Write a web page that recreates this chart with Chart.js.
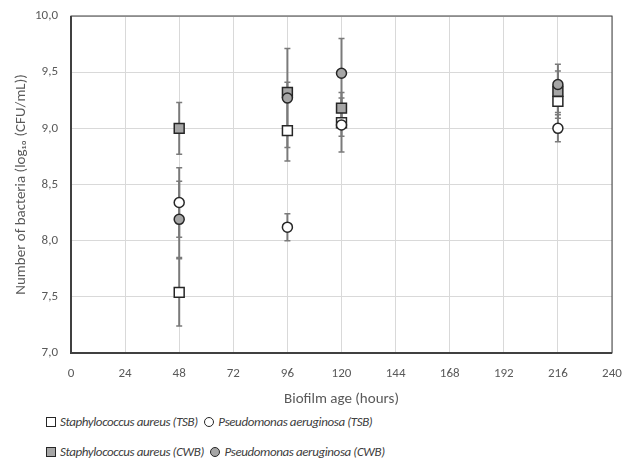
<!DOCTYPE html>
<html>
<head>
<meta charset="utf-8">
<script src="https://cdn.jsdelivr.net/npm/chart.js@4/dist/chart.umd.min.js"></script>
<style>
  html, body { margin: 0; padding: 0; background: #fff; }
  #wrap { position: relative; width: 625px; height: 462px; overflow: hidden; font-family: Carlito, Lato, sans-serif; }
  #c { position: absolute; left: 0; top: 0; }
  .row { position: absolute; left: 46px; font-style: italic; font-size: 13px; letter-spacing: -0.4px; color: #404040; white-space: nowrap; line-height: 16px; }
  .sym { display: inline-block; vertical-align: -1px; margin-right: 4px; box-sizing: border-box; border: 1.5px solid #262626; }
  .sq { width: 10px; height: 10px; }
  .ci { width: 10px; height: 10px; border-radius: 50%; margin-left: 4px; }
</style>
</head>
<body>
<div id="wrap">
  <canvas id="c" width="625" height="410"></canvas>
  <div class="row" id="row1" style="top:414px"></div>
  <div class="row" id="row2" style="top:444px"></div>
</div>
<script>
const hours = [48, 96, 120, 216];
const seriesNames = [
  "Staphylococcus aureus (TSB)",
  "Pseudomonas aeruginosa (TSB)",
  "Staphylococcus aureus (CWB)",
  "Pseudomonas aeruginosa (CWB)"
];
const staphTSB = [7.54, 8.98, 9.05, 9.24];
const staphTSBErr = [0.30, 0.27, 0.12, 0.10];
const pseudoTSB = [8.34, 8.12, 9.03, 9.00];
const pseudoTSBErr = [0.31, 0.12, 0.24, 0.12];
const staphCWB = [9.00, 9.32, 9.18, 9.33];
const staphCWBErr = [0.23, 0.09, 0.14, 0.24];
const pseudoCWB = [8.19, 9.27, 9.49, 9.39];
const pseudoCWBErr = [0.34, 0.44, 0.31, 0.12];
const xTicks = [0, 24, 48, 72, 96, 120, 144, 168, 192, 216, 240];
const yTicks = [7.0, 7.5, 8.0, 8.5, 9.0, 9.5, 10.0];

const FONT = "Carlito, Lato, sans-serif";
const TXT = "#595959";
const GRAY = "#a6a6a6";
const EDGE = "#262626";

function pts(vals, errs) {
  return hours.map((h, i) => ({ x: h, y: vals[i], err: errs[i] }));
}

const errorBars = {
  id: 'errorBars',
  beforeDatasetsDraw(chart) {
    const ctx = chart.ctx;
    const xs = chart.scales.x, ys = chart.scales.y;
    ctx.save();
    ctx.strokeStyle = '#7a7a7a';
    chart.data.datasets.forEach(ds => {
      ds.data.forEach(p => {
        const x = xs.getPixelForValue(p.x);
        const y1 = ys.getPixelForValue(p.y + p.err);
        const y2 = ys.getPixelForValue(p.y - p.err);
        ctx.lineWidth = 2;
        ctx.beginPath();
        ctx.moveTo(x, y1); ctx.lineTo(x, y2);
        ctx.stroke();
        ctx.lineWidth = 1.5;
        ctx.beginPath();
        ctx.moveTo(x - 3, y1); ctx.lineTo(x + 3, y1);
        ctx.moveTo(x - 3, y2); ctx.lineTo(x + 3, y2);
        ctx.stroke();
      });
    });
    const a = chart.chartArea;
    ctx.strokeStyle = '#404040';
    ctx.lineWidth = 1;
    ctx.strokeRect(a.left, a.top, a.right - a.left, a.bottom - a.top);
    ctx.lineWidth = 2;
    ctx.beginPath();
    ctx.moveTo(a.left, a.top); ctx.lineTo(a.left, a.bottom); ctx.lineTo(a.right, a.bottom);
    ctx.stroke();
    ctx.restore();
  }
};

new Chart(document.getElementById('c'), {
  type: 'scatter',
  data: {
    datasets: [
      { label: seriesNames[0], data: pts(staphTSB, staphTSBErr), pointStyle: 'rect', pointRadius: 7, pointHoverRadius: 7, backgroundColor: '#ffffff', borderColor: EDGE, borderWidth: 1.5, order: 3 },
      { label: seriesNames[1], data: pts(pseudoTSB, pseudoTSBErr), pointStyle: 'circle', pointRadius: 5, pointHoverRadius: 5, backgroundColor: '#ffffff', borderColor: EDGE, borderWidth: 1.5, order: 2 },
      { label: seriesNames[2], data: pts(staphCWB, staphCWBErr), pointStyle: 'rect', pointRadius: 7, pointHoverRadius: 7, backgroundColor: GRAY, borderColor: EDGE, borderWidth: 1.5, order: 1 },
      { label: seriesNames[3], data: pts(pseudoCWB, pseudoCWBErr), pointStyle: 'circle', pointRadius: 5, pointHoverRadius: 5, backgroundColor: GRAY, borderColor: EDGE, borderWidth: 1.5, order: 0 }
    ]
  },
  options: {
    responsive: false,
    animation: false,
    devicePixelRatio: 1,
    layout: { padding: { left: 0, top: 16, right: 13, bottom: 0 } },
    plugins: { legend: { display: false }, tooltip: { enabled: false } },
    scales: {
      x: {
        type: 'linear', min: 0, max: 240,
        afterBuildTicks: s => { s.ticks = xTicks.map(v => ({ value: v })); },
        afterFit: s => { s.height = 57; s.paddingLeft = 0; s.paddingRight = 0; },
        grid: { color: '#d9d9d9', drawTicks: false },
        border: { display: false },
        ticks: { padding: 13, color: TXT, font: { family: FONT, size: 13 }, maxRotation: 0 },
        title: { display: true, text: 'Biofilm age (hours)', color: TXT, font: { family: FONT, size: 15 }, padding: { top: 0, bottom: 2 } }
      },
      y: {
        type: 'linear', min: 7, max: 10,
        afterBuildTicks: s => { s.ticks = yTicks.map(v => ({ value: v })); },
        afterFit: s => { s.width = 71; s.paddingTop = 0; s.paddingBottom = 0; },
        grid: { color: '#d9d9d9', drawTicks: false },
        border: { display: false },
        ticks: { padding: 13, color: TXT, font: { family: FONT, size: 13 }, callback: v => Number(v).toFixed(1).replace('.', ',') },
        title: { display: true, text: 'Number of bacteria (log\u2081\u2080 (CFU/mL))', color: TXT, font: { family: FONT, size: 15 }, padding: { top: 12, bottom: 0 } }
      }
    }
  },
  plugins: [errorBars]
});

function sym(cls, fill) {
  return '<span class="sym ' + cls + '" style="background:' + fill + '"></span>';
}
document.getElementById('row1').innerHTML =
  sym('sq', '#ffffff') + seriesNames[0] + ' ' + sym('ci', '#ffffff') + seriesNames[1];
document.getElementById('row2').innerHTML =
  sym('sq', GRAY) + seriesNames[2] + ' ' + sym('ci', GRAY) + seriesNames[3];
</script>
</body>
</html>
